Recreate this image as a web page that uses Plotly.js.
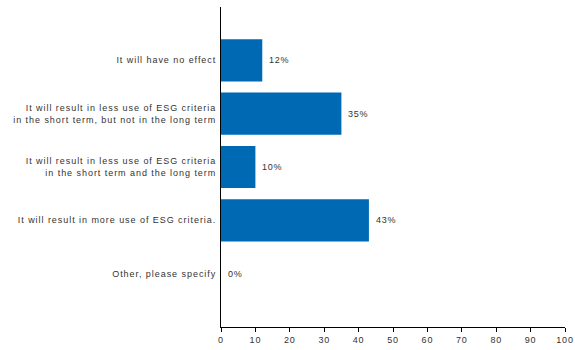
<!DOCTYPE html>
<html>
<head>
<meta charset="utf-8">
<script src="https://cdn.plot.ly/plotly-3.0.1.min.js"></script>
<style>
body{margin:0;padding:0;background:#fff;}
#chart{width:575px;height:350px;}
.ytick text{letter-spacing:0.95px;}
.xtick text, .annotation-text{letter-spacing:0.8px;}
</style>
</head>
<body>
<div id="chart"></div>
<script>
var categories = [
  "It will have no effect",
  "It will result in less use of ESG criteria<br>in the short term, but not in the long term",
  "It will result in less use of ESG criteria<br>in the short term and the long term",
  "It will result in more use of ESG criteria.",
  "Other, please specify"
];
var values = [12, 35, 10, 43, 0];
var valueLabels = ["12%", "35%", "10%", "43%", "0%"];
var xTicks = [0, 10, 20, 30, 40, 50, 60, 70, 80, 90, 100];

var trace = {
  type: 'bar',
  orientation: 'h',
  x: values,
  y: categories,
  marker: {color: '#0069b4'},
  width: 0.79,
  hoverinfo: 'none'
};

var annotations = categories.map(function (c, i) {
  return {
    x: values[i], y: c, xref: 'x', yref: 'y',
    text: valueLabels[i], showarrow: false,
    xanchor: 'left', yanchor: 'middle', xshift: 5,
    font: {family: 'Liberation Sans, Arial, sans-serif', size: 9, color: '#333333'}
  };
});

var layout = {
  width: 575, height: 350,
  margin: {l: 221, r: 10, t: 7, b: 23, pad: 0},
  paper_bgcolor: '#ffffff', plot_bgcolor: '#ffffff',
  showlegend: false,
  font: {family: 'Liberation Sans, Arial, sans-serif', size: 9, color: '#333333'},
  annotations: annotations,
  xaxis: {
    range: [0, 100], tickvals: xTicks, ticktext: xTicks.map(String),
    showgrid: false, zeroline: false,
    showline: true, linecolor: '#000000', linewidth: 1,
    ticks: 'outside', ticklen: 4, tickcolor: '#000000', tickwidth: 1,
    tickfont: {size: 9, color: '#333333'}, fixedrange: true
  },
  yaxis: {
    type: 'category', categoryorder: 'array', categoryarray: categories,
    range: [5, -1],
    showgrid: false, zeroline: false,
    showline: true, linecolor: '#000000', linewidth: 1,
    ticks: '', ticklabelstandoff: 2,
    tickfont: {size: 9, color: '#333333'}, fixedrange: true
  }
};

Plotly.newPlot('chart', [trace], layout, {staticPlot: true, displayModeBar: false});
</script>
</body>
</html>
